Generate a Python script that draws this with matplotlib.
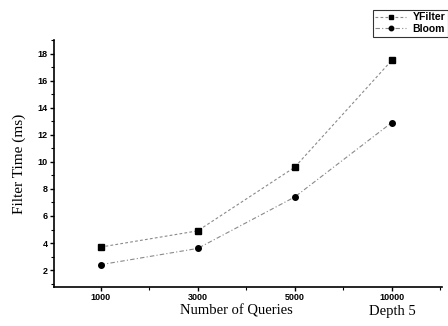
import numpy as np
import matplotlib.pyplot as plt
from matplotlib.ticker import MultipleLocator

# Values.
queries = ['1000', '3000', '5000', '10000']
yfilter = [3.7, 4.9, 9.6, 17.5]
bloom = [2.4, 3.6, 7.4, 12.9]

x = np.arange(len(queries))

fig = plt.figure(figsize=(4.48, 3.26), dpi=100)
ax = fig.add_axes([0.1205, 0.1196, 0.8665, 0.7574])

l1, = ax.plot(x, yfilter, color='#8a8a8a', lw=0.8, linestyle=(0, (2.5, 2)),
              marker='s', ms=4, mfc='black', mec='black', label='YFilter')
l2, = ax.plot(x, bloom, color='#8a8a8a', lw=0.8, linestyle=(0, (4, 2, 1, 2)),
              marker='o', ms=4, mfc='black', mec='black', label='Bloom')

ax.set_xlim(-0.48, 3.52)
ax.set_ylim(0.75, 19)
ax.set_xticks(x)
ax.set_xticklabels(queries)
ax.xaxis.set_minor_locator(MultipleLocator(0.5))
ax.yaxis.set_minor_locator(MultipleLocator(1))
ax.set_yticks(np.arange(2, 19, 2))

for s in ['top', 'right']:
    ax.spines[s].set_visible(False)
for s in ['left', 'bottom']:
    ax.spines[s].set_linewidth(1.2)

ax.tick_params(which='major', direction='out', length=3, width=1, pad=1.5)
ax.tick_params(which='minor', direction='out', length=2, width=0.8)
for lab in ax.get_xticklabels() + ax.get_yticklabels():
    lab.set_fontfamily('Liberation Sans')
    lab.set_fontweight('bold')
    lab.set_fontsize(6.5)

ax.set_ylabel('Filter Time (ms)', fontfamily='Liberation Serif',
              fontsize=11, labelpad=8)
fig.text(0.527, 0.045, 'Number of Queries', fontfamily='Liberation Serif',
         fontsize=10.5, ha='center', va='center')
fig.text(0.875, 0.045, 'Depth 5', fontfamily='Liberation Serif',
         fontsize=10.5, ha='center', va='center')

leg = fig.legend(handles=[l1, l2], loc='upper right',
                 bbox_to_anchor=(1.0, 0.97), frameon=True, fancybox=False,
                 edgecolor='black', borderpad=0.25, labelspacing=0.15,
                 handlelength=3.0, handletextpad=0.6, borderaxespad=0,
                 markerscale=0.8,
                 prop={'family': 'Liberation Sans', 'weight': 'bold',
                       'size': 7.5})
leg.get_frame().set_linewidth(0.8)

fig.savefig('out.png', dpi=100)
